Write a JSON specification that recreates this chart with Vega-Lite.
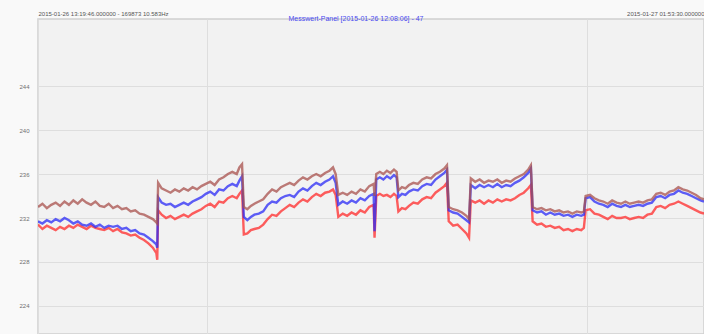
{
  "$schema": "https://vega.github.io/schema/vega-lite/v6.json",
  "width": 666,
  "height": 315,
  "autosize": "none",
  "padding": {"left": 38, "top": 19, "right": 0, "bottom": 0},
  "background": "#f9f9f9",
  "title": {
    "text": "Messwert-Panel [2015-01-26 12:08:06] - 47",
    "anchor": "middle",
    "frame": "group",
    "dx": -15,
    "offset": -12,
    "font": "Liberation Sans",
    "fontSize": 7,
    "fontWeight": "normal",
    "color": "#4a4af0"
  },
  "config": {
    "view": {"fill": "#f2f2f2", "stroke": "#d0d0d0", "strokeWidth": 1.5},
    "axis": {"labelFont": "Liberation Sans", "labelFontSize": 6, "labelColor": "#707070", "gridColor": "#dedede", "gridWidth": 1, "ticks": false, "domain": false, "title": null}
  },
  "data": {
    "values": [
      {"m":0,"a":233.0,"b":231.7,"c":231.4},
      {"m":5,"a":233.3,"b":231.5,"c":231.0},
      {"m":10,"a":232.9,"b":231.8,"c":231.3},
      {"m":15,"a":233.2,"b":231.6,"c":231.1},
      {"m":20,"a":233.4,"b":231.9,"c":230.9},
      {"m":25,"a":233.1,"b":231.7,"c":231.2},
      {"m":30,"a":233.5,"b":232.0,"c":231.0},
      {"m":35,"a":233.2,"b":231.8,"c":231.3},
      {"m":40,"a":233.6,"b":231.5,"c":231.1},
      {"m":45,"a":233.3,"b":231.7,"c":231.4},
      {"m":50,"a":233.7,"b":231.4,"c":231.2},
      {"m":55,"a":233.4,"b":231.3,"c":231.0},
      {"m":60,"a":233.2,"b":231.5,"c":231.3},
      {"m":65,"a":233.5,"b":231.2,"c":231.1},
      {"m":70,"a":233.1,"b":231.4,"c":231.0},
      {"m":75,"a":233.0,"b":231.1,"c":230.9},
      {"m":80,"a":233.3,"b":231.3,"c":231.1},
      {"m":85,"a":232.9,"b":231.2,"c":230.8},
      {"m":90,"a":233.1,"b":231.3,"c":231.0},
      {"m":95,"a":232.8,"b":231.0,"c":230.7},
      {"m":100,"a":232.9,"b":231.1,"c":230.6},
      {"m":105,"a":232.6,"b":230.8,"c":230.4},
      {"m":110,"a":232.7,"b":230.9,"c":230.5},
      {"m":115,"a":232.4,"b":230.6,"c":230.2},
      {"m":120,"a":232.3,"b":230.5,"c":230.0},
      {"m":125,"a":232.1,"b":230.2,"c":229.7},
      {"m":130,"a":231.9,"b":229.9,"c":229.3},
      {"m":134,"a":231.6,"b":229.6,"c":228.8},
      {"m":135,"a":231.5,"b":229.3,"c":228.2},
      {"m":136,"a":235.2,"b":233.9,"c":232.7},
      {"m":140,"a":234.7,"b":233.4,"c":232.3},
      {"m":145,"a":234.5,"b":233.2,"c":232.0},
      {"m":150,"a":234.3,"b":233.3,"c":232.2},
      {"m":155,"a":234.6,"b":233.0,"c":231.9},
      {"m":160,"a":234.4,"b":233.2,"c":232.1},
      {"m":165,"a":234.7,"b":233.4,"c":232.3},
      {"m":170,"a":234.5,"b":233.2,"c":232.1},
      {"m":175,"a":234.8,"b":233.5,"c":232.4},
      {"m":180,"a":234.6,"b":233.7,"c":232.6},
      {"m":185,"a":234.9,"b":233.9,"c":232.8},
      {"m":190,"a":235.1,"b":234.2,"c":233.1},
      {"m":195,"a":235.3,"b":234.4,"c":233.3},
      {"m":200,"a":235.0,"b":234.1,"c":233.0},
      {"m":205,"a":235.5,"b":234.6,"c":233.5},
      {"m":210,"a":235.7,"b":234.5,"c":233.4},
      {"m":215,"a":236.0,"b":234.9,"c":233.8},
      {"m":220,"a":236.2,"b":235.1,"c":234.0},
      {"m":225,"a":236.0,"b":234.9,"c":233.8},
      {"m":228,"a":236.6,"b":235.4,"c":234.2},
      {"m":231,"a":236.9,"b":235.8,"c":234.5},
      {"m":233,"a":233.0,"b":232.1,"c":230.5},
      {"m":237,"a":232.8,"b":231.8,"c":230.6},
      {"m":241,"a":233.1,"b":232.1,"c":230.9},
      {"m":245,"a":233.3,"b":232.3,"c":231.0},
      {"m":250,"a":233.5,"b":232.4,"c":231.1},
      {"m":255,"a":233.7,"b":232.6,"c":231.4},
      {"m":260,"a":234.2,"b":233.2,"c":231.9},
      {"m":265,"a":234.6,"b":233.5,"c":232.3},
      {"m":270,"a":234.4,"b":233.4,"c":232.2},
      {"m":275,"a":234.8,"b":233.8,"c":232.6},
      {"m":280,"a":235.0,"b":234.0,"c":232.9},
      {"m":285,"a":235.2,"b":234.1,"c":233.2},
      {"m":290,"a":235.0,"b":233.9,"c":233.0},
      {"m":295,"a":235.4,"b":234.4,"c":233.4},
      {"m":300,"a":235.7,"b":234.7,"c":233.7},
      {"m":305,"a":235.5,"b":234.5,"c":233.5},
      {"m":310,"a":235.8,"b":234.9,"c":233.9},
      {"m":315,"a":236.0,"b":235.2,"c":234.2},
      {"m":320,"a":235.8,"b":235.0,"c":234.0},
      {"m":325,"a":236.1,"b":235.3,"c":234.3},
      {"m":330,"a":236.3,"b":235.5,"c":234.4},
      {"m":334,"a":236.6,"b":235.8,"c":234.6},
      {"m":337,"a":236.0,"b":235.2,"c":234.1},
      {"m":340,"a":234.1,"b":233.2,"c":232.1},
      {"m":345,"a":234.3,"b":233.5,"c":232.4},
      {"m":350,"a":234.1,"b":233.3,"c":232.2},
      {"m":355,"a":234.4,"b":233.6,"c":232.5},
      {"m":360,"a":234.2,"b":233.4,"c":232.3},
      {"m":365,"a":234.6,"b":233.8,"c":232.7},
      {"m":370,"a":234.4,"b":233.6,"c":232.5},
      {"m":375,"a":234.9,"b":234.0,"c":233.0},
      {"m":380,"a":235.1,"b":234.2,"c":233.2},
      {"m":381,"a":234.0,"b":230.8,"c":230.2},
      {"m":383,"a":236.0,"b":235.5,"c":234.0},
      {"m":387,"a":236.2,"b":235.7,"c":234.2},
      {"m":391,"a":236.0,"b":235.5,"c":234.0},
      {"m":395,"a":236.3,"b":235.8,"c":234.1},
      {"m":399,"a":236.1,"b":235.6,"c":233.9},
      {"m":403,"a":236.4,"b":235.9,"c":234.2},
      {"m":406,"a":236.2,"b":235.7,"c":234.0},
      {"m":408,"a":234.5,"b":233.9,"c":232.6},
      {"m":412,"a":234.8,"b":234.2,"c":232.9},
      {"m":416,"a":234.7,"b":234.1,"c":232.8},
      {"m":420,"a":235.0,"b":234.4,"c":233.1},
      {"m":425,"a":235.2,"b":234.6,"c":233.4},
      {"m":430,"a":235.1,"b":234.5,"c":233.3},
      {"m":435,"a":235.5,"b":234.9,"c":233.7},
      {"m":440,"a":235.7,"b":235.1,"c":233.9},
      {"m":445,"a":235.6,"b":235.0,"c":233.8},
      {"m":450,"a":236.0,"b":235.5,"c":234.3},
      {"m":455,"a":236.2,"b":235.8,"c":234.6},
      {"m":460,"a":236.5,"b":236.1,"c":234.9},
      {"m":463,"a":236.8,"b":236.4,"c":235.2},
      {"m":465,"a":233.0,"b":232.7,"c":231.7},
      {"m":470,"a":232.8,"b":232.5,"c":231.3},
      {"m":475,"a":232.7,"b":232.4,"c":231.4},
      {"m":480,"a":232.5,"b":232.1,"c":231.0},
      {"m":485,"a":232.2,"b":231.8,"c":230.6},
      {"m":488,"a":231.9,"b":231.6,"c":230.2},
      {"m":490,"a":235.6,"b":235.0,"c":233.6},
      {"m":495,"a":235.3,"b":234.7,"c":233.4},
      {"m":500,"a":235.5,"b":235.0,"c":233.6},
      {"m":505,"a":235.2,"b":234.8,"c":233.3},
      {"m":510,"a":235.4,"b":235.0,"c":233.6},
      {"m":515,"a":235.3,"b":234.8,"c":233.4},
      {"m":520,"a":235.5,"b":235.1,"c":233.7},
      {"m":525,"a":235.2,"b":234.8,"c":233.5},
      {"m":530,"a":235.4,"b":235.0,"c":233.7},
      {"m":535,"a":235.3,"b":234.9,"c":233.6},
      {"m":540,"a":235.6,"b":235.2,"c":233.8},
      {"m":545,"a":235.8,"b":235.4,"c":234.1},
      {"m":550,"a":236.0,"b":235.7,"c":234.3},
      {"m":555,"a":236.4,"b":236.1,"c":234.7},
      {"m":558,"a":236.8,"b":236.5,"c":235.0},
      {"m":560,"a":233.0,"b":232.7,"c":231.7},
      {"m":565,"a":232.8,"b":232.5,"c":231.4},
      {"m":570,"a":232.9,"b":232.6,"c":231.5},
      {"m":575,"a":232.7,"b":232.3,"c":231.2},
      {"m":580,"a":232.8,"b":232.5,"c":231.3},
      {"m":585,"a":232.6,"b":232.3,"c":231.1},
      {"m":590,"a":232.7,"b":232.4,"c":231.2},
      {"m":595,"a":232.5,"b":232.2,"c":230.9},
      {"m":600,"a":232.6,"b":232.3,"c":231.0},
      {"m":605,"a":232.4,"b":232.1,"c":230.8},
      {"m":610,"a":232.6,"b":232.3,"c":231.0},
      {"m":615,"a":232.5,"b":232.2,"c":230.9},
      {"m":618,"a":232.6,"b":232.3,"c":231.1},
      {"m":620,"a":234.0,"b":233.8,"c":232.7},
      {"m":625,"a":234.1,"b":233.9,"c":232.8},
      {"m":630,"a":233.8,"b":233.5,"c":232.4},
      {"m":635,"a":233.6,"b":233.3,"c":232.3},
      {"m":640,"a":233.5,"b":233.2,"c":232.1},
      {"m":645,"a":233.3,"b":233.0,"c":231.9},
      {"m":650,"a":233.6,"b":233.3,"c":232.2},
      {"m":655,"a":233.4,"b":233.1,"c":232.0},
      {"m":660,"a":233.3,"b":233.0,"c":232.0},
      {"m":665,"a":233.5,"b":233.2,"c":232.1},
      {"m":670,"a":233.3,"b":233.0,"c":231.9},
      {"m":675,"a":233.4,"b":233.1,"c":232.0},
      {"m":680,"a":233.5,"b":233.2,"c":232.1},
      {"m":685,"a":233.4,"b":233.1,"c":232.0},
      {"m":690,"a":233.6,"b":233.3,"c":232.3},
      {"m":695,"a":233.7,"b":233.4,"c":232.4},
      {"m":700,"a":234.2,"b":233.9,"c":233.0},
      {"m":705,"a":234.3,"b":234.0,"c":233.1},
      {"m":710,"a":234.1,"b":233.8,"c":232.9},
      {"m":715,"a":234.4,"b":234.1,"c":233.2},
      {"m":720,"a":234.5,"b":234.2,"c":233.3},
      {"m":725,"a":234.8,"b":234.5,"c":233.5},
      {"m":730,"a":234.6,"b":234.3,"c":233.3},
      {"m":735,"a":234.5,"b":234.2,"c":233.1},
      {"m":740,"a":234.3,"b":234.0,"c":232.9},
      {"m":745,"a":234.1,"b":233.8,"c":232.7},
      {"m":750,"a":233.8,"b":233.6,"c":232.5},
      {"m":754,"a":233.7,"b":233.5,"c":232.4}
    ]
  },
  "transform": [{"fold": ["c", "b", "a"], "as": ["phase", "volt"]}],
  "mark": {"type": "line", "strokeWidth": 2.4, "opacity": 0.75, "clip": true},
  "encoding": {
    "x": {
      "field": "m",
      "type": "quantitative",
      "scale": {"domain": [0, 754], "nice": false, "zero": false},
      "axis": {
        "orient": "top",
        "values": [0, 191, 622, 754],
        "labelFlush": true,
        "labelOverlap": false,
        "labelPadding": 3,
        "labelColor": "#555555",
        "labelExpr": "datum.value == 0 ? '2015-01-26 13:19:46.000000 - 169873 10.583Hz' : (datum.value == 754 ? '2015-01-27 01:53:30.000000' : '')"
      }
    },
    "y": {
      "field": "volt",
      "type": "quantitative",
      "scale": {"domain": [221.45, 250.1], "nice": false, "zero": false},
      "axis": {"values": [224, 228, 232, 236, 240, 244], "labelPadding": 9}
    },
    "color": {
      "field": "phase",
      "type": "nominal",
      "scale": {"domain": ["c", "b", "a"], "range": ["#ff2a2a", "#2a2af5", "#a8504c"]},
      "legend": null
    },
    "order": {"field": "phase", "sort": "ascending"}
  }
}
